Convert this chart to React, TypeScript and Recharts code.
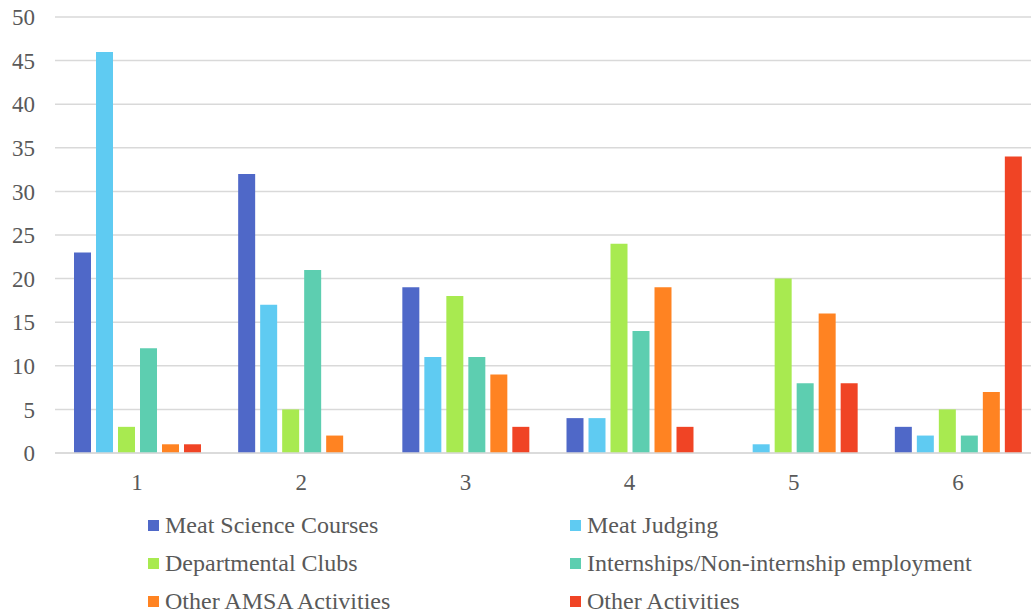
import React from "react";
import { BarChart, Bar, XAxis, YAxis, CartesianGrid, Legend } from "recharts";

const categories = ["1", "2", "3", "4", "5", "6"];
const meatScience = [23, 32, 19, 4, 0, 3];
const meatJudging = [46, 17, 11, 4, 1, 2];
const deptClubs = [3, 5, 18, 24, 20, 5];
const internships = [12, 21, 11, 14, 8, 2];
const otherAmsa = [1, 2, 9, 19, 16, 7];
const otherActivities = [1, 0, 3, 3, 8, 34];
const yTicks = [0, 5, 10, 15, 20, 25, 30, 35, 40, 45, 50];

const series = [
  { key: "ms", name: "Meat Science Courses", color: "#4F68C8", values: meatScience },
  { key: "mj", name: "Meat Judging", color: "#5FCBF2", values: meatJudging },
  { key: "dc", name: "Departmental Clubs", color: "#A8EA50", values: deptClubs },
  { key: "in", name: "Internships/Non-internship employment", color: "#5DCEB0", values: internships },
  { key: "oa", name: "Other AMSA Activities", color: "#FF8322", values: otherAmsa },
  { key: "ot", name: "Other Activities", color: "#F04425", values: otherActivities },
];

const data = categories.map((c, i) => {
  const row: { [key: string]: any } = { name: c };
  series.forEach((s) => {
    row[s.key] = s.values[i];
  });
  return row;
});

const font = '"Liberation Serif", "Times New Roman", serif';

const renderLegend = () => (
  <div
    style={{
      height: 122,
      paddingTop: 13,
      boxSizing: "border-box",
      display: "grid",
      gridTemplateColumns: "422px 422px",
      gridTemplateRows: "39px 37px 38px",
      paddingLeft: 148,
      fontFamily: font,
      fontSize: 24,
      color: "#595959",
    }}
  >
    {series.map((s) => (
      <div key={s.key} style={{ display: "flex", alignItems: "center", whiteSpace: "nowrap" }}>
        <span style={{ width: 11, height: 11, background: s.color, marginRight: 6, display: "inline-block", flexShrink: 0 }} />
        <span>{s.name}</span>
      </div>
    ))}
  </div>
);

export default function App() {
  return (
    <div
      style={{
        position: "absolute",
        left: 0,
        top: 0,
        width: 1031,
        height: 615,
        overflow: "hidden",
        background: "#fff",
        fontFamily: font,
      }}
    >
      <BarChart
        width={1040}
        height={615}
        data={data}
        margin={{ top: 17, right: 0, left: 0, bottom: 0 }}
        barSize={17}
        barGap={5}
      >
        <CartesianGrid vertical={false} stroke="#D9D9D9" strokeWidth={1.5} />
        <XAxis
          dataKey="name"
          height={40}
          tickLine={false}
          axisLine={{ stroke: "#D9D9D9", strokeWidth: 1.5 }}
          tick={{ fill: "#595959", fontSize: 23, fontFamily: font }}
          tickMargin={15}
        />
        <YAxis
          width={55}
          domain={[0, 50]}
          ticks={yTicks}
          interval={0}
          tickLine={false}
          axisLine={false}
          tickSize={0}
          tickMargin={20}
          tick={{ fill: "#595959", fontSize: 23, fontFamily: font }}
        />
        <Legend verticalAlign="bottom" align="left" height={122} content={renderLegend} />
        {series.map((s) => (
          <Bar key={s.key} dataKey={s.key} name={s.name} fill={s.color} isAnimationActive={false} />
        ))}
      </BarChart>
    </div>
  );
}
